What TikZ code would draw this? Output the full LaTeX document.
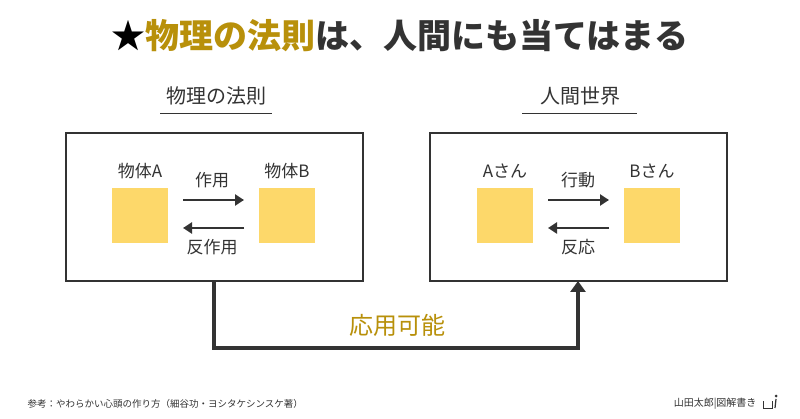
\documentclass[tikz,border=0pt]{standalone}
\usepackage{fontspec}
\setmainfont{Noto Sans CJK JP}
\usetikzlibrary{arrows.meta}
\definecolor{gold}{HTML}{B8900A}
\definecolor{ink}{HTML}{333333}
\definecolor{sq}{HTML}{FDD86A}
\tikzset{
 frame/.style={draw=ink,line width=1.3pt},
 sqr/.style={fill=sq,draw=none,minimum width=56pt,minimum height=55pt,inner sep=0},
 lbl/.style={text=ink,font=\fontsize{17pt}{19pt}\selectfont},
 hdr/.style={text=ink,font=\fontsize{20pt}{22pt}\selectfont},
 arr/.style={draw=ink,line width=2.5pt,-{Triangle[length=9pt,width=11pt]}},
}
\begin{document}
\begin{tikzpicture}[x=1pt,y=-1pt]
\useasboundingbox[fill=white] (0,0) rectangle (800,419);
\node[font=\fontsize{34pt}{36pt}\selectfont\bfseries] (title) at (400,36) {{\color{black}★}{\color{gold}物理の法則}{\color{ink}は、人間にも当てはまる}};
\node[hdr] (h1) at (216,96) {物理の法則};
\draw[ink,line width=0.8pt] (160,113) -- (272,113);
\node[hdr] (h2) at (580,96) {人間世界};
\draw[ink,line width=0.8pt] (522,113) -- (637,113);
\node[frame,minimum width=297pt,minimum height=148pt] (L) at (214.5,207) {};
\node[frame,minimum width=297pt,minimum height=148pt] (R) at (578.5,207) {};
\node[sqr] (a) at (140,215.5) {};
\node[sqr] (b) at (286.5,215.5) {};
\node[sqr] (c) at (505,215.5) {};
\node[sqr] (d) at (652,215.5) {};
\node[lbl] at (140,171) {物体A};
\node[lbl] at (287,171) {物体B};
\node[lbl] at (505,171) {Aさん};
\node[lbl] at (652,171) {Bさん};
\coordinate (a1) at (183,200); \coordinate (b1) at (244,200);
\coordinate (a2) at (183,228); \coordinate (b2) at (244,228);
\draw[arr] (a1) -- (b1); \draw[arr] (b2) -- (a2);
\node[lbl] at (212,180) {作用};
\node[lbl] at (212,247) {反作用};
\coordinate (c1) at (548,200); \coordinate (d1) at (609,200);
\coordinate (c2) at (548,228); \coordinate (d2) at (609,228);
\draw[arr] (c1) -- (d1); \draw[arr] (d2) -- (c2);
\node[lbl] at (578,180) {行動};
\node[lbl] at (578,247) {反応};
\coordinate (s) at (214,281); \coordinate (e) at (578,281);
\draw[draw=ink,line width=4pt,-{Triangle[length=11pt,width=15pt]}] (s) -- (214,348) -- (578,348) -- (e);
\node[text=gold,font=\fontsize{24pt}{26pt}\selectfont] (k) at (397,325) {応用可能};
\node[anchor=west,text=ink,font=\fontsize{9.5pt}{11pt}\selectfont] (ref) at (24,404) {参考：やわらかい心頭の作り方（細谷功・ヨシタケシンスケ著）};
\node[anchor=east,text=ink,font=\fontsize{10pt}{11pt}\selectfont] (sig) at (760,404) {山田太郎|図解書き};
\draw[ink,line width=0.8pt] (763,401) -- (763,408) -- (772,408) -- (772,401);
\fill[ink] (776,396) circle (1.5);
\draw[ink,line width=1.2pt] (776,399) -- (775,408);
\end{tikzpicture}
\end{document}
